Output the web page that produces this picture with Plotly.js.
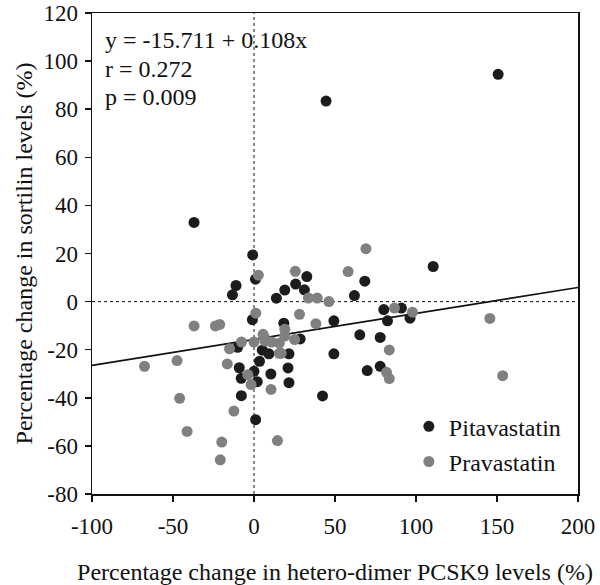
<!DOCTYPE html>
<html>
<head>
<meta charset="utf-8">
<script src="https://cdn.plot.ly/plotly-3.0.1.min.js"></script>
<style>html,body{margin:0;padding:0;background:#fff;}#chart{width:600px;height:585px;}</style>
</head>
<body>
<div id="chart"></div>
<script>
// Pitavastatin (black)
const pitaX = [150.7, 44.5, -37.0, -0.8, 0.9, -11.1, -13.3, 13.8, 19.0, 25.7, 32.6, 31.1, -1.0, 18.4, 62.0, 68.4, 110.6, 49.3, 80.1, 91.0, 82.4, 96.3, 65.3, 77.9, 28.5, -10.1, 5.1, 9.2, 21.6, 49.3, 3.4, -9.1, 0.0, 21.0, -7.9, 2.0, 10.4, 21.6, -7.8, 42.3, 69.9, 77.9, 1.0];
const pitaY = [94.5, 83.4, 32.9, 19.4, 9.3, 6.7, 2.8, 1.4, 4.8, 7.3, 10.4, 4.9, -7.5, -9.0, 2.5, 8.5, 14.6, -8.0, -3.3, -2.7, -8.0, -6.9, -13.8, -14.9, -15.5, -19.0, -20.2, -21.7, -21.7, -21.7, -24.8, -27.5, -29.0, -27.6, -31.9, -33.3, -30.1, -33.7, -39.1, -39.2, -28.7, -26.9, -49.1];
// Pravastatin (gray)
const pravaX = [69.1, 58.1, 25.5, 2.7, 33.6, 39.0, 46.2, 1.1, 28.1, 86.7, 97.8, 145.6, 38.2, -37.0, -23.8, -21.2, 5.6, 6.4, 19.0, 19.0, 0.0, 6.8, 10.9, 15.6, -7.7, -15.1, 25.1, 15.6, 16.8, 83.5, -67.6, -47.5, -16.5, -3.8, -1.8, 10.5, 81.8, 83.5, 153.5, -45.9, -12.4, -41.3, -19.9, -20.8, 14.5];
const pravaY = [22.0, 12.5, 12.6, 11.0, 1.5, 1.5, 0.0, -4.8, -5.3, -2.7, -4.4, -7.0, -9.2, -10.1, -10.1, -9.5, -13.6, -14.9, -11.5, -14.3, -16.8, -16.4, -16.8, -17.3, -16.8, -19.6, -15.8, -21.5, -21.5, -20.1, -26.9, -24.5, -25.9, -30.4, -34.5, -36.5, -29.4, -32.0, -30.8, -40.2, -45.5, -54.0, -58.4, -65.8, -57.8];

const seriesNames = ['Pitavastatin', 'Pravastatin'];
const fitIntercept = -15.711;
const fitSlope = 0.108;
const fitRange = [-100, 200];
const statLines = ['y = -15.711 + 0.108x', 'r = 0.272', 'p = 0.009'];
const xTicks = [-100, -50, 0, 50, 100, 150, 200];
const yTicks = [-80, -60, -40, -20, 0, 20, 40, 60, 80, 100, 120];

const FONT = 'Liberation Serif, Times New Roman, serif';
const FS = 24;
const fitY = fitRange.map(x => fitIntercept + fitSlope * x);

const traces = [
  {x: fitRange, y: fitY, mode: 'lines', line: {color: '#111', width: 1.6}, showlegend: false, hoverinfo: 'skip'},
  {x: pitaX, y: pitaY, mode: 'markers', name: seriesNames[0], legendgroup: 'a',
   marker: {color: '#1c1c1c', size: 11, line: {width: 0}}},
  {x: pravaX, y: pravaY, mode: 'markers', name: seriesNames[1], legendgroup: 'b',
   marker: {color: '#808080', size: 11, line: {width: 0}}}
];

const annotations = statLines.map((t, i) => ({
  text: t, xref: 'paper', yref: 'paper', x: 0.022, y: [0.944, 0.884, 0.826][i],
  xanchor: 'left', yanchor: 'middle', showarrow: false,
  font: {family: FONT, size: FS, color: '#111'}
}));

const axisCommon = {
  showgrid: false, zeroline: false, showline: true, linecolor: '#111', linewidth: 1.5,
  mirror: true, ticks: 'outside', ticklen: 6, tickwidth: 1.5, tickcolor: '#111',
  ticklabeloverflow: 'allow',
  tickfont: {family: FONT, size: 23, color: '#111'}
};

const layout = {
  width: 600, height: 585,
  margin: {l: 92, r: 22, t: 13, b: 91},
  paper_bgcolor: '#fff', plot_bgcolor: '#fff',
  showlegend: true,
  xaxis: Object.assign({}, axisCommon, {
    range: [-100, 200], tickvals: xTicks, ticktext: xTicks.map(String),
    ticklabelstandoff: 5,
    title: {text: 'Percentage change in hetero-dimer PCSK9 levels (%)', font: {family: FONT, size: FS, color: '#111'}, standoff: 25}
  }),
  yaxis: Object.assign({}, axisCommon, {
    range: [-80, 120], tickvals: yTicks, ticktext: yTicks.map(String),
    ticklabelstandoff: 2,
    title: {text: 'Percentage change in sortilin levels (%)', font: {family: FONT, size: FS, color: '#111'}, standoff: 4}
  }),
  legend: {x: 0.652, y: 0.1867, xanchor: 'left', yanchor: 'top', bgcolor: 'rgba(0,0,0,0)',
    font: {family: FONT, size: FS, color: '#111'}, tracegroupgap: 1, traceorder: 'grouped'},
  shapes: [
    {type: 'line', xref: 'x', yref: 'paper', x0: 0, x1: 0, y0: 0, y1: 1, line: {color: '#111', width: 1, dash: 'dot'}, layer: 'below'},
    {type: 'line', xref: 'paper', yref: 'y', x0: 0, x1: 1, y0: 0, y1: 0, line: {color: '#111', width: 1, dash: 'dot'}, layer: 'below'}
  ],
  annotations: annotations
};

Plotly.newPlot('chart', traces, layout, {displayModeBar: false, staticPlot: true});
</script>
</body>
</html>
